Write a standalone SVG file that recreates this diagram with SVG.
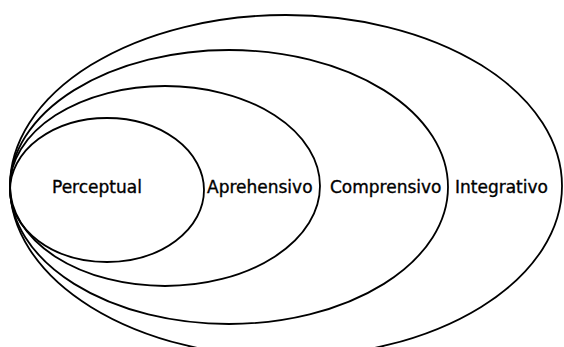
<svg xmlns="http://www.w3.org/2000/svg" width="564" height="347" viewBox="0 0 564 347">
<style>
.e{fill:none;stroke:#000;stroke-width:1.8}
.t{font-family:"DejaVu Sans",sans-serif;font-size:17px;fill:#000;stroke:#000;stroke-width:0.35}
</style>
<rect width="564" height="347" fill="#fff"/>
<g id="integrativo"><ellipse class="e" cx="286" cy="186" rx="276" ry="171"/><text class="t" x="455" y="193">Integrativo</text></g>
<g id="comprensivo"><ellipse class="e" cx="229" cy="187" rx="219" ry="137"/><text class="t" x="330" y="193">Comprensivo</text></g>
<g id="aprehensivo"><ellipse class="e" cx="165" cy="186" rx="155" ry="100"/><text class="t" x="207" y="193">Aprehensivo</text></g>
<g id="perceptual"><ellipse class="e" cx="107" cy="190" rx="97" ry="72"/><text class="t" x="52" y="193">Perceptual</text></g>
<g id="connectors"/>
</svg>
